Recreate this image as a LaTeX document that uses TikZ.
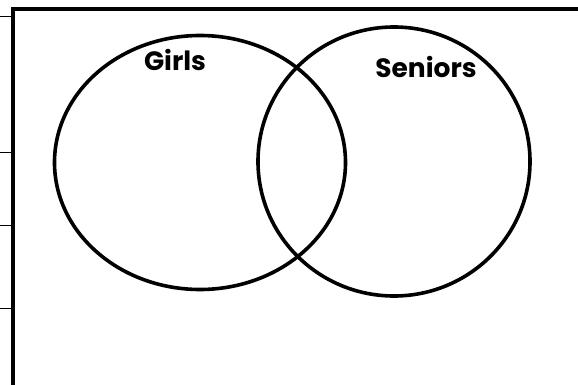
\documentclass[tikz,border=0pt]{standalone}
\usepackage{fontspec}
\setmainfont{Poppins}
\usetikzlibrary{shapes.geometric}

\tikzset{
	setring/.style={draw, ellipse, line width=3.6pt, inner sep=0pt},
	setlabel/.style={font=\bfseries\fontsize{26.5}{30}\selectfont, inner sep=0pt},
	frameline/.style={line width=4pt},
	tickline/.style={line width=1pt}
}

\begin{document}
\begin{tikzpicture}[x=1pt, y=-1pt]
	\useasboundingbox (0,0) rectangle (578,385);
	% sheet edge
	\draw[frameline] (13, 385) -- (13, 9.5) -- (578, 9.5);
	\foreach \ty in {17, 152, 225, 308}
		\draw[tickline] (0, \ty) -- (12, \ty);
	% the two sets
	\node[setring, minimum width=291pt, minimum height=254pt] (girls) at (200, 162.5){};
	\node[setring, minimum width=272pt, minimum height=269pt] (seniors) at (394, 161.5){};
	\node[setlabel] (girlslbl) at (175, 60){Girls};
	\node[setlabel] (seniorslbl) at (426, 67){Seniors};
\end{tikzpicture}
\end{document}
